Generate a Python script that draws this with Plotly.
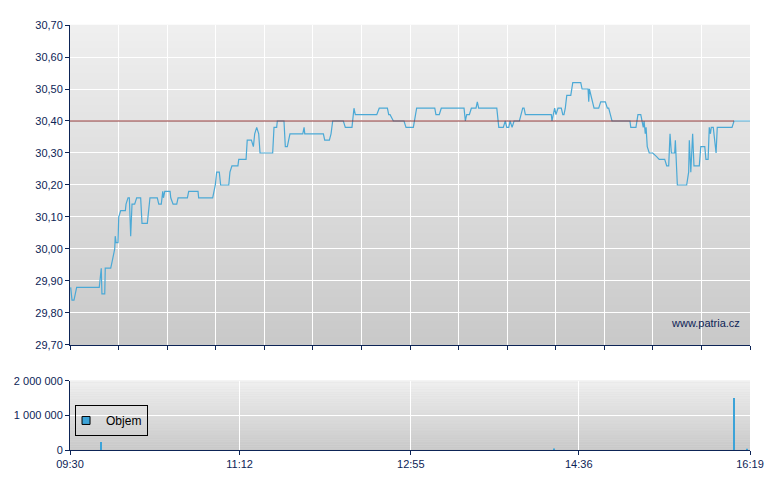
import plotly.graph_objects as go

# ---- data (minutes after 09:30 open) ----
minutes_after_open = [
    0.4, 1.2, 2.4, 4.0, 17.6, 18.8, 19.2, 20.9, 21.2, 24.5, 25.3, 26.9, 27.2, 27.7, 28.9, 29.3,
    30.5, 33.3, 33.7, 34.9, 35.7, 36.5, 37.3, 38.9, 40.1, 42.5, 43.3, 46.5, 48.1, 52.5, 53.4,
    54.9, 55.8, 56.2, 57.0, 60.2, 60.6, 62.0, 64.2, 65.0, 70.6, 71.4, 77.0, 77.4, 85.8, 87.4,
    88.2, 89.8, 90.6, 95.5, 96.2, 97.4, 101.0, 101.5, 105.9, 106.6, 109.1, 110.3, 111.1, 112.3,
    113.5, 114.3, 121.9, 122.7, 124.3, 124.7, 128.7, 129.5, 130.7, 132.3, 140.0, 140.8, 141.2,
    152.4, 153.2, 156.0, 157.0, 158.0, 164.4, 165.6, 169.6, 170.8, 171.6, 184.5, 186.0, 190.9,
    191.7, 192.5, 194.5, 200.9, 202.1, 206.5, 208.5, 219.4, 220.1, 222.1, 223.3, 237.0, 237.8,
    238.6, 240.2, 241.4, 244.2, 245.0, 245.8, 256.7, 257.9, 260.6, 261.8, 262.7, 263.9, 264.7,
    265.9, 267.1, 270.3, 272.3, 273.1, 273.9, 289.5, 289.9, 291.5, 292.3, 293.5, 295.5, 296.4,
    297.1, 297.9, 298.8, 301.2, 302.4, 307.2, 308.0, 311.6, 312.0, 312.4, 313.2, 314.0, 315.2,
    318.0, 319.2, 322.0, 323.2, 324.0, 326.0, 336.8, 337.3, 340.4, 341.6, 343.3, 344.1, 344.8,
    345.3, 346.0, 346.5, 347.2, 348.4, 350.5, 352.5, 354.4, 357.7, 358.9, 360.1, 360.9, 361.7,
    363.7, 364.1, 364.5, 365.3, 370.9, 372.1, 372.5, 373.4, 374.5, 375.3, 378.5, 379.4, 381.8,
    382.5, 383.8, 384.5, 385.2, 385.7, 386.9, 388.6, 389.3, 398.2, 399.4, 409.0,
]
price = [
    29.88, 29.84, 29.84, 29.88, 29.88, 29.94, 29.86, 29.86, 29.94, 29.94, 29.96, 30.00, 30.04, 30.02, 30.02, 30.10,
    30.12, 30.12, 30.14, 30.16, 30.16, 30.04, 30.14, 30.14, 30.16, 30.16, 30.08, 30.08, 30.16, 30.16, 30.14,
    30.14, 30.18, 30.16, 30.18, 30.18, 30.16, 30.14, 30.14, 30.16, 30.16, 30.18, 30.18, 30.16, 30.16, 30.20,
    30.24, 30.24, 30.20, 30.20, 30.24, 30.26, 30.26, 30.28, 30.28, 30.34, 30.34, 30.32, 30.36, 30.38,
    30.36, 30.30, 30.30, 30.38, 30.38, 30.40, 30.40, 30.32, 30.32, 30.36, 30.36, 30.38, 30.36,
    30.36, 30.34, 30.34, 30.36, 30.40, 30.40, 30.38, 30.38, 30.44, 30.42, 30.42, 30.44, 30.44,
    30.42, 30.42, 30.40, 30.40, 30.38, 30.38, 30.44, 30.44, 30.42, 30.42, 30.44, 30.44, 30.40,
    30.42, 30.42, 30.44, 30.44, 30.46, 30.44, 30.44, 30.38, 30.38, 30.40, 30.38, 30.38, 30.40,
    30.38, 30.40, 30.40, 30.44, 30.44, 30.42, 30.42, 30.40, 30.44, 30.42, 30.44, 30.44, 30.42,
    30.42, 30.44, 30.48, 30.48, 30.52, 30.52, 30.50, 30.50, 30.46, 30.50, 30.48, 30.46, 30.44,
    30.44, 30.46, 30.46, 30.44, 30.44, 30.40, 30.40, 30.38, 30.38, 30.42, 30.42, 30.40, 30.38,
    30.40, 30.36, 30.38, 30.32, 30.30, 30.30, 30.29, 30.28, 30.28, 30.26, 30.26, 30.36, 30.30,
    30.30, 30.34, 30.30, 30.20, 30.20, 30.24, 30.34, 30.24, 30.36, 30.26, 30.26, 30.32, 30.32,
    30.28, 30.28, 30.38, 30.36, 30.38, 30.38, 30.30, 30.38, 30.38, 30.40, 30.40,
]
previous_close = 30.40

volume_minutes = [18.8, 291.0, 399.4, 407.0]
volume = [230000, 40000, 1500000, 30000]

session_length = 409  # 09:30 -> 16:19
time_tickvals = [0, 102, 205, 306, 409]
time_ticktext = ["09:30", "11:12", "12:55", "14:36", "16:19"]

# ---- styling ----
NAVY = "#0d2456"
LINE_BLUE = "#4ba9d6"
FONT = "Liberation Sans, Arial, sans-serif"

fig = go.Figure()

fig.add_trace(go.Scatter(
    x=minutes_after_open, y=price, mode="lines",
    line=dict(color=LINE_BLUE, width=1.2), showlegend=False,
    xaxis="x", yaxis="y", hoverinfo="skip",
))

fig.add_trace(go.Bar(
    x=volume_minutes, y=volume, width=0.7,
    marker=dict(color="#3ca3d8", line=dict(width=0)),
    showlegend=False, xaxis="x2", yaxis="y2",
))
# legend entry for volume
fig.add_trace(go.Scatter(
    x=[None], y=[None], mode="markers", name="Objem",
    marker=dict(symbol="square", size=8, color="#3ca3d8", line=dict(color="black", width=1)),
    xaxis="x2", yaxis="y2",
))

shapes = []
# gradient backgrounds
def gradient(xref, yref, top, bottom, n=40):
    out = []
    for i in range(n):
        t = (i + 0.5) / n
        c = round(top + (bottom - top) * t)
        out.append(dict(
            type="rect", xref=xref, yref=yref, x0=0, x1=1,
            y0=1 - (i + 1) / n, y1=1 - i / n + 0.001,
            fillcolor=f"rgb({c},{c},{c})", line=dict(width=0), layer="below",
        ))
    return out

shapes += gradient("x domain", "y domain", 239, 201)
shapes += gradient("x2 domain", "y2 domain", 240, 200)
# previous close reference line
shapes.append(dict(
    type="line", xref="x", yref="y", x0=0, x1=399.4, y0=previous_close, y1=previous_close,
    line=dict(color="#8a3030", width=1), layer="above",
))

axis_common = dict(
    showline=True, linecolor=NAVY, linewidth=1, ticks="outside", ticklen=4,
    tickcolor=NAVY, gridcolor="white", gridwidth=1, zeroline=False,
    tickfont=dict(family=FONT, size=11, color=NAVY), automargin=False,
)

fig.update_layout(
    width=780, height=490,
    margin=dict(l=62, r=38, t=17, b=48),
    paper_bgcolor="white", plot_bgcolor="#dcdcdc",
    separators=", ",
    font=dict(family=FONT, size=11, color=NAVY),
    shapes=shapes,
    xaxis=dict(axis_common, domain=[0, 1], anchor="y", range=[0, session_length],
               tickmode="linear", tick0=0, dtick=session_length / 14,
               showticklabels=False, showgrid=True),
    yaxis=dict(axis_common, domain=[0.2471, 1], anchor="x", range=[29.70, 30.70],
               tickmode="linear", tick0=29.70, dtick=0.1, tickformat=".2f", showgrid=True),
    xaxis2=dict(axis_common, domain=[0, 1], anchor="y2", range=[0, session_length],
                tickmode="array", tickvals=time_tickvals, ticktext=time_ticktext, showgrid=True),
    yaxis2=dict(axis_common, domain=[0, 0.163], anchor="x2", range=[0, 2000000],
                tickmode="linear", tick0=0, dtick=1000000, tickformat=",.0f", showgrid=True),
    showlegend=True,
    legend=dict(x=0.0074, y=0.106, xanchor="left", yanchor="top",
                bgcolor="rgba(0,0,0,0)", bordercolor="black", borderwidth=1,
                font=dict(family=FONT, size=12, color="black"), itemwidth=30,
                indentation=-10),
    annotations=[dict(
        text="www.patria.cz", xref="paper", yref="paper", x=0.988, y=0.299,
        xanchor="right", yanchor="middle", showarrow=False,
        font=dict(family=FONT, size=11, color=NAVY),
    )],
    hovermode=False,
)

fig.write_html("out.html")
